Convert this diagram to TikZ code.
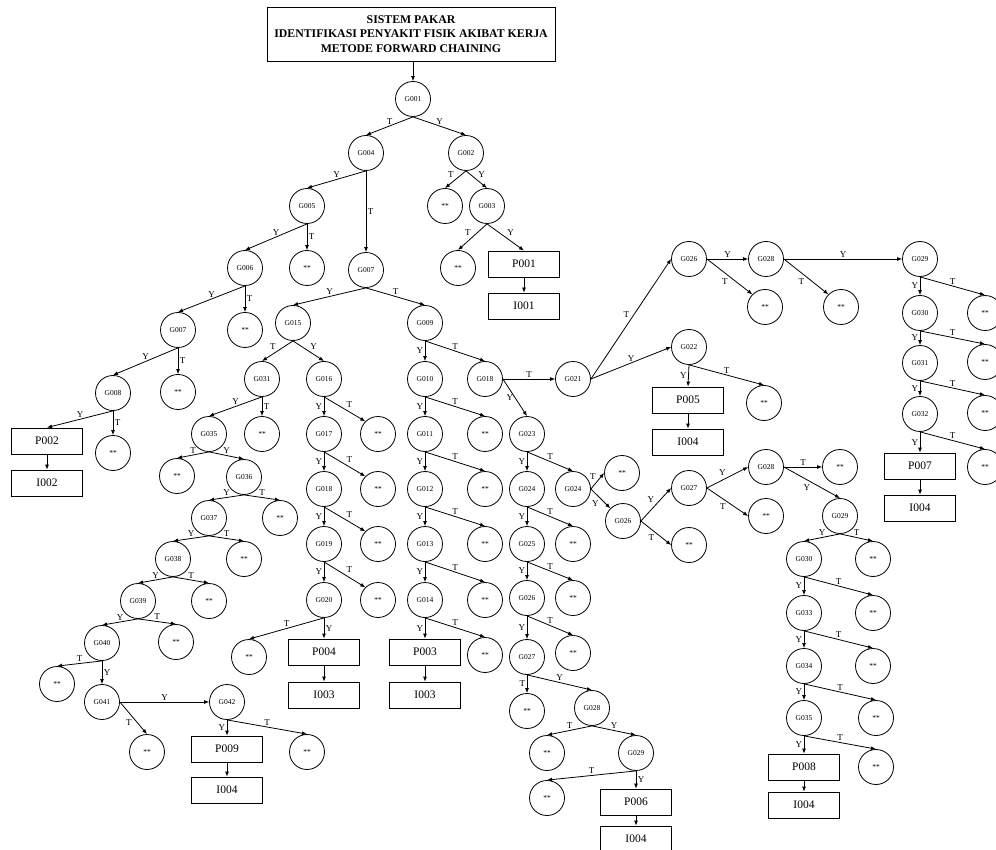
\documentclass[tikz,border=0pt]{standalone}
\usepackage{fontspec}
\setmainfont{Liberation Serif}
\usetikzlibrary{arrows.meta}
\begin{document}
\begin{tikzpicture}[x=1pt, y=-1pt,
  gejala/.style={circle, draw, line width=0.8pt, minimum size=35pt, inner sep=0pt, font=\fontsize{7.5}{8}\selectfont},
  hasil/.style={rectangle, draw, line width=0.8pt, minimum width=71pt, minimum height=26pt, inner sep=0pt, font=\fontsize{11.5}{13}\selectfont},
  panah/.style={-{Latex[length=5pt,width=4pt]}, line width=0.8pt},
  ket/.style={font=\fontsize{9}{10}\selectfont, inner sep=1.5pt}]
  \path[use as bounding box, clip] (0,0) rectangle (996,850);
  \fill[white] (0,0) rectangle (996,850);

  % judul
  \node[draw, line width=0.8pt, minimum width=288pt, minimum height=54pt, align=center,
        font=\bfseries\fontsize{11.8}{14.5}\selectfont] (judul) at (411,34)
        {SISTEM PAKAR\\IDENTIFIKASI PENYAKIT FISIK AKIBAT KERJA\\METODE FORWARD CHAINING};

  % bagian atas
  \node[gejala] (g001) at (413,99) {G001};
  \node[gejala] (g004) at (366,153) {G004};
  \node[gejala] (g002) at (466,153) {G002};
  \node[gejala] (x002) at (445,206) {**};
  \node[gejala] (g003) at (487,206) {G003};
  \node[gejala] (x003) at (458,268) {**};
  \node[hasil] (p001) at (524,264) {P001};
  \node[hasil] (i001) at (524,306) {I001};

  % cabang kiri
  \node[gejala] (g005) at (307,206) {G005};
  \node[gejala] (x005) at (307,268) {**};
  \node[gejala] (g006) at (245,268) {G006};
  \node[gejala] (x006) at (245,330) {**};
  \node[gejala] (g007a) at (178,330) {G007};
  \node[gejala] (x007a) at (178,392) {**};
  \node[gejala] (g008) at (113,393) {G008};
  \node[gejala] (x008) at (113,453) {**};
  \node[hasil] (p002) at (47,441) {P002};
  \node[hasil] (i002) at (47,483) {I002};

  % cabang G007
  \node[gejala] (g007) at (366,270) {G007};
  \node[gejala] (g015) at (293,323) {G015};
  \node[gejala] (g009) at (425,323) {G009};
  \node[gejala] (g031) at (262,379) {G031};
  \node[gejala] (x031) at (262,434) {**};
  \node[gejala] (g035) at (209,434) {G035};
  \node[gejala] (x035) at (177,476) {**};
  \node[gejala] (g036) at (244,477) {G036};
  \node[gejala] (g037) at (209,518) {G037};
  \node[gejala] (x036) at (280,518) {**};
  \node[gejala] (g038) at (173,559) {G038};
  \node[gejala] (x037) at (244,559) {**};
  \node[gejala] (g039) at (138,601) {G039};
  \node[gejala] (x038) at (209,601) {**};
  \node[gejala] (g040) at (102,643) {G040};
  \node[gejala] (x039) at (176,642) {**};
  \node[gejala] (x040) at (57,684) {**};
  \node[gejala] (g041) at (102,702) {G041};
  \node[gejala] (g042) at (227,702) {G042};
  \node[gejala] (x041) at (147,752) {**};
  \node[gejala] (x042) at (307,752) {**};
  \node[hasil] (p009) at (227,749) {P009};
  \node[hasil] (i004a) at (227,790) {I004};

  \foreach \n/\y in {016/379,017/434,018/489,019/544,020/600}
    \node[gejala] (g\n) at (324,\y) {G\n};
  \foreach \n/\y in {016/434,017/489,018/544,019/600}
    \node[gejala] (x\n) at (378,\y) {**};
  \node[gejala] (x020) at (249,657) {**};
  \node[hasil] (p004) at (324,652) {P004};
  \node[hasil] (i003a) at (324,695) {I003};

  \foreach \n/\y in {010/379,011/434,012/489,013/544,014/600}
    \node[gejala] (g\n) at (425,\y) {G\n};
  \foreach \n/\y in {010/434,011/489,012/544,013/600,014/655}
    \node[gejala] (x\n) at (485,\y) {**};
  \node[hasil] (p003) at (425,652) {P003};
  \node[hasil] (i003b) at (425,695) {I003};

  % cabang G018
  \node[gejala] (g018b) at (485,379) {G018};
  \node[gejala] (g021) at (573,379) {G021};
  \node[gejala] (g026a) at (689,259) {G026};
  \node[gejala] (x026a) at (765,307) {**};
  \node[gejala] (g028a) at (766,259) {G028};
  \node[gejala] (x028a) at (841,307) {**};
  \node[gejala] (g029a) at (920,259) {G029};
  \node[gejala] (g030a) at (920,313) {G030};
  \node[gejala] (g031b) at (920,363) {G031};
  \node[gejala] (g032) at (920,414) {G032};
  \node[gejala] (x029a) at (985,313) {**};
  \node[gejala] (x030a) at (985,362) {**};
  \node[gejala] (x031b) at (985,413) {**};
  \node[gejala] (x032) at (985,467) {**};
  \node[hasil] (p007) at (920,466) {P007};
  \node[hasil] (i004b) at (920,508) {I004};
  \node[gejala] (g022) at (689,347) {G022};
  \node[gejala] (x022) at (764,403) {**};
  \node[hasil] (p005) at (688,400) {P005};
  \node[hasil] (i004c) at (688,442) {I004};

  \node[gejala] (g023) at (527,434) {G023};
  \node[gejala] (g024a) at (527,489) {G024};
  \node[gejala] (g025) at (527,544) {G025};
  \node[gejala] (g026b) at (527,598) {G026};
  \node[gejala] (g027a) at (527,657) {G027};
  \node[gejala] (x024a) at (573,544) {**};
  \node[gejala] (x025) at (573,598) {**};
  \node[gejala] (x026b) at (573,653) {**};
  \node[gejala] (x027a) at (527,711) {**};
  \node[gejala] (g028b) at (592,708) {G028};
  \node[gejala] (x028b) at (547,753) {**};
  \node[gejala] (g029b) at (636,753) {G029};
  \node[gejala] (x029b) at (547,798) {**};
  \node[hasil] (p006) at (636,802) {P006};
  \node[hasil] (i004d) at (636,839) {I004};

  \node[gejala] (g024b) at (573,489) {G024};
  \node[gejala] (x024b) at (622,473) {**};
  \node[gejala] (g026c) at (623,521) {G026};
  \node[gejala] (g027b) at (689,488) {G027};
  \node[gejala] (x026c) at (689,545) {**};
  \node[gejala] (g028c) at (766,467) {G028};
  \node[gejala] (x027b) at (766,516) {**};
  \node[gejala] (x028c) at (840,467) {**};
  \node[gejala] (g029c) at (840,516) {G029};
  \node[gejala] (g030b) at (804,559) {G030};
  \node[gejala] (x029c) at (873,559) {**};
  \node[gejala] (g033) at (804,613) {G033};
  \node[gejala] (x030b) at (873,613) {**};
  \node[gejala] (g034) at (804,666) {G034};
  \node[gejala] (x033) at (873,666) {**};
  \node[gejala] (g035b) at (804,718) {G035};
  \node[gejala] (x034) at (876,718) {**};
  \node[gejala] (x035b) at (876,767) {**};
  \node[hasil] (p008) at (804,767) {P008};
  \node[hasil] (i004e) at (804,805) {I004};

  % panah atas
  \draw[panah] (judul.south -| g001) -- (g001.north);
  \draw[panah] (g001.south) -- node[ket,above]{T} (g004.north);
  \draw[panah] (g001.south) -- node[ket,above]{Y} (g002.north);
  \draw[panah] (g002.south) -- node[ket,above left]{T} (x002.north);
  \draw[panah] (g002.south) -- node[ket,above right]{Y} (g003.north);
  \draw[panah] (g003.south) -- node[ket,above left]{T} (x003.north);
  \draw[panah] (g003.south) -- node[ket,above right]{Y} (p001.north);
  \draw[panah] (p001.south) -- (i001.north);

  % panah kiri
  \draw[panah] (g004.south) -- node[ket,above]{Y} (g005.north);
  \draw[panah] (g004.south) -- node[ket,right]{T} (g007.north);
  \draw[panah] (g005.south) -- node[ket,above]{Y} (g006.north);
  \draw[panah] (g005.south) -- node[ket,right]{T} (x005.north);
  \draw[panah] (g006.south) -- node[ket,above]{Y} (g007a.north);
  \draw[panah] (g006.south) -- node[ket,right]{T} (x006.north);
  \draw[panah] (g007a.south) -- node[ket,above]{Y} (g008.north);
  \draw[panah] (g007a.south) -- node[ket,right]{T} (x007a.north);
  \draw[panah] (g008.south) -- node[ket,above]{Y} (p002.north);
  \draw[panah] (g008.south) -- node[ket,right]{T} (x008.north);
  \draw[panah] (p002.south) -- (i002.north);

  % panah G007
  \draw[panah] (g007.south) -- node[ket,above]{Y} (g015.north);
  \draw[panah] (g007.south) -- node[ket,above]{T} (g009.north);
  \draw[panah] (g015.south) -- node[ket,above left]{T} (g031.north);
  \draw[panah] (g015.south) -- node[ket,above right]{Y} (g016.north);
  \draw[panah] (g031.south) -- node[ket,above]{Y} (g035.north);
  \draw[panah] (g031.south) -- node[ket,right]{T} (x031.north);
  \draw[panah] (g035.south) -- node[ket,above]{T} (x035.north);
  \draw[panah] (g035.south) -- node[ket,above]{Y} (g036.north);
  \foreach \a/\b in {036/037,037/038,038/039,039/040} {
    \draw[panah] (g\a.south) -- node[ket,above]{Y} (g\b.north);
    \draw[panah] (g\a.south) -- node[ket,above]{T} (x\a.north);
  }
  \draw[panah] (g040.south) -- node[ket,above]{T} (x040.north);
  \draw[panah] (g040.south) -- node[ket,right]{Y} (g041.north);
  \draw[panah] (g041.east) -- node[ket,above]{Y} (g042.west);
  \draw[panah] (g041.east) -- node[ket,below left]{T} (x041.north);
  \draw[panah] (g042.south) -- node[ket,left]{Y} (p009.north);
  \draw[panah] (g042.south) -- node[ket,above]{T} (x042.north);
  \draw[panah] (p009.south) -- (i004a.north);

  \foreach \a/\b in {016/017,017/018,018/019,019/020} {
    \draw[panah] (g\a.south) -- node[ket,left]{Y} (g\b.north);
    \draw[panah] (g\a.south) -- node[ket,above right]{T} (x\a.north west);
  }
  \draw[panah] (g020.south) -- node[ket,above]{T} (x020.north);
  \draw[panah] (g020.south) -- node[ket,right]{Y} (p004.north);
  \draw[panah] (p004.south) -- (i003a.north);

  \draw[panah] (g009.south) -- node[ket,left]{Y} (g010.north);
  \draw[panah] (g009.south) -- node[ket,above]{T} (g018b.north);
  \foreach \a/\b in {010/011,011/012,012/013,013/014} {
    \draw[panah] (g\a.south) -- node[ket,left]{Y} (g\b.north);
    \draw[panah] (g\a.south) -- node[ket,above]{T} (x\a.north);
  }
  \draw[panah] (g014.south) -- node[ket,left]{Y} (p003.north);
  \draw[panah] (g014.south) -- node[ket,above]{T} (x014.north);
  \draw[panah] (p003.south) -- (i003b.north);

  % panah G018
  \draw[panah] (g018b.east) -- node[ket,above]{T} (g021.west);
  \draw[panah] (g018b.east) -- node[ket,left]{Y} (g023.north);
  \draw[panah] (g021.east) -- node[ket,above left]{T} (g026a.west);
  \draw[panah] (g021.east) -- node[ket,above]{Y} (g022.west);
  \draw[panah] (g026a.east) -- node[ket,above]{Y} (g028a.west);
  \draw[panah] (g026a.east) -- node[ket,below left]{T} (x026a.north west);
  \draw[panah] (g028a.east) -- node[ket,above]{Y} (g029a.west);
  \draw[panah] (g028a.east) -- node[ket,below left]{T} (x028a.north west);
  \foreach \a/\b in {029a/030a,030a/031b,031b/032} {
    \draw[panah] (g\a.south) -- node[ket,left]{Y} (g\b.north);
    \draw[panah] (g\a.south) -- node[ket,above]{T} (x\a.north);
  }
  \draw[panah] (g032.south) -- node[ket,left]{Y} (p007.north);
  \draw[panah] (g032.south) -- node[ket,above]{T} (x032.north);
  \draw[panah] (p007.south) -- (i004b.north);
  \draw[panah] (g022.south) -- node[ket,left]{Y} (p005.north);
  \draw[panah] (g022.south) -- node[ket,above]{T} (x022.north);
  \draw[panah] (p005.south) -- (i004c.north);

  \draw[panah] (g023.south) -- node[ket,left]{Y} (g024a.north);
  \draw[panah] (g023.south) -- node[ket,above]{T} (g024b.north);
  \foreach \a/\b in {024a/025,025/026b,026b/027a} {
    \draw[panah] (g\a.south) -- node[ket,left]{Y} (g\b.north);
    \draw[panah] (g\a.south) -- node[ket,above]{T} (x\a.north);
  }
  \draw[panah] (g027a.south) -- node[ket,left]{T} (x027a.north);
  \draw[panah] (g027a.south) -- node[ket,above]{Y} (g028b.north);
  \draw[panah] (g028b.south) -- node[ket,above]{T} (x028b.north);
  \draw[panah] (g028b.south) -- node[ket,above]{Y} (g029b.north);
  \draw[panah] (g029b.south) -- node[ket,above]{T} (x029b.north);
  \draw[panah] (g029b.south) -- node[ket,right]{Y} (p006.north);
  \draw[panah] (p006.south) -- (i004d.north);

  \draw[panah] (g024b.east) -- node[ket,above left]{T} (x024b.west);
  \draw[panah] (g024b.east) -- node[ket,below left]{Y} (g026c.north west);
  \draw[panah] (g026c.east) -- node[ket,above left]{Y} (g027b.west);
  \draw[panah] (g026c.east) -- node[ket,below left]{T} (x026c.west);
  \draw[panah] (g027b.east) -- node[ket,above left]{Y} (g028c.west);
  \draw[panah] (g027b.east) -- node[ket,below left]{T} (x027b.west);
  \draw[panah] (g028c.east) -- node[ket,above]{T} (x028c.west);
  \draw[panah] (g028c.east) -- node[ket,below left]{Y} (g029c.north);
  \draw[panah] (g029c.south) -- node[ket,above]{Y} (g030b.north);
  \draw[panah] (g029c.south) -- node[ket,above]{T} (x029c.north);
  \foreach \a/\b in {030b/033,033/034,034/035b} {
    \draw[panah] (g\a.south) -- node[ket,left]{Y} (g\b.north);
    \draw[panah] (g\a.south) -- node[ket,above]{T} (x\a.north);
  }
  \draw[panah] (g035b.south) -- node[ket,left]{Y} (p008.north);
  \draw[panah] (g035b.south) -- node[ket,above]{T} (x035b.north);
  \draw[panah] (p008.south) -- (i004e.north);
\end{tikzpicture}
\end{document}
